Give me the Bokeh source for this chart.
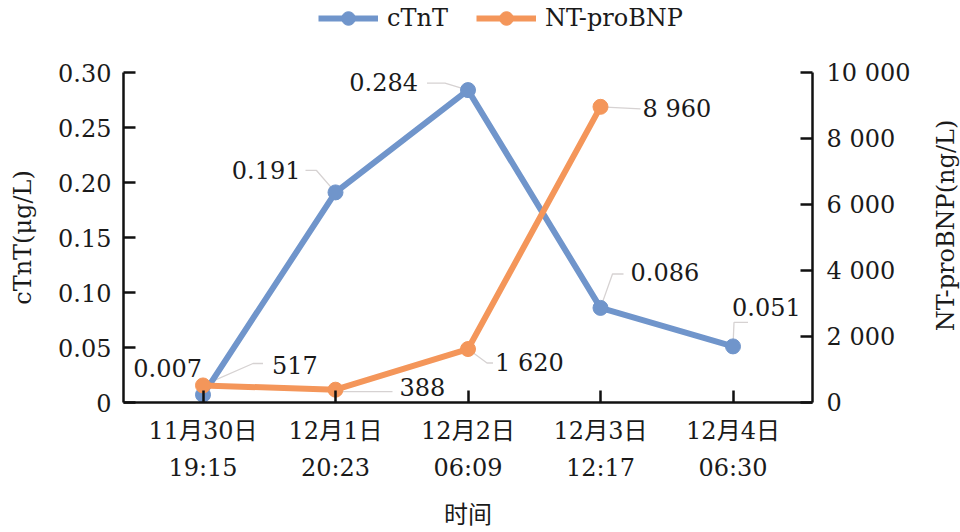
import math
from bokeh.plotting import figure
from bokeh.layouts import column, row
from bokeh.models import (Range1d, LinearAxis, FixedTicker, Legend, LegendItem,
                          ColumnDataSource)
from bokeh.core.properties import value
from bokeh.embed import file_html
from bokeh.resources import INLINE

# ---------------- data ----------------
categories = ["11月30日\n19:15", "12月1日\n20:23", "12月2日\n06:09",
              "12月3日\n12:17", "12月4日\n06:30"]
ctnt = [0.007, 0.191, 0.284, 0.086, 0.051]
bnp = [517, 388, 1620, 8960]
ctnt_labels = ["0.007", "0.191", "0.284", "0.086", "0.051"]
bnp_labels = ["517", "388", "1 620", "8 960"]
series_names = ["cTnT", "NT-proBNP"]
left_ticks = [0, 0.05, 0.10, 0.15, 0.20, 0.25, 0.30]
left_tick_labels = ["0", "0.05", "0.10", "0.15", "0.20", "0.25", "0.30"]
right_ticks = [0, 2000, 4000, 6000, 8000, 10000]
right_tick_labels = ["0", "2 000", "4 000", "6 000", "8 000", "10 000"]
x_title = "时间"
left_title = "cTnT(μg/L)"
right_title = "NT-proBNP(ng/L)"

# ---------------- layout / style ----------------
W, H = 960, 532
TOPH = 40                      # legend strip height
RW = 40                        # right-title strip width
W2 = W - RW
BL, BR, BT, BB = 123, 148 - RW, 72 - TOPH, 129
H2 = H - TOPH
FW, FH = W2 - BL - BR, H2 - BT - BB
XMIN, XMAX = -0.6, len(categories) - 0.4
YMAX_L, YMAX_R = 0.30, 10000
BLUE = "#7095CB"
ORANGE = "#F4965A"
LEAD = "#d6d2d2"
FONT = "'DejaVu Serif', 'Noto Sans CJK SC'"
FS = "24px"
INK = "#1a1a1a"

px_x = FW / (XMAX - XMIN)
px_l = FH / YMAX_L
px_r = FH / YMAX_R

# label placement (pixel offsets from each point), align
ctnt_lab_off = [(-1, -27, "right"), (-35, -22, "right"), (-50, -8, "right"),
                (30, -36, "left"), (-1, -39, "left")]
bnp_lab_off = [(69, -20, "left"), (64, -3, "left"), (27, 14, "left"), (42, 2, "left")]
# leader polylines (pixel offsets from each point)
ctnt_lead = [[(0, 0), (0, 0)], [(0, 0), (-19, -22), (-30, -22)],
             [(0, 0), (-23, -7), (-41, -7)], [(0, 0), (12, -34), (23, -34)],
             [(0, 0), (1, -24), (15, -24)]]
bnp_lead = [[(0, 0), (50, -22), (60, -22)], [(0, 2), (57, 2)],
            [(0, 0), (19, 14), (25, 14)], [(0, 0), (40, 2)]]

# ---------------- legend strip ----------------
top = figure(width=W2, height=TOPH, output_backend="svg", toolbar_location=None,
             x_range=Range1d(0, 1), y_range=Range1d(0, 1),
             x_axis_location=None, y_axis_location=None,
             min_border=0, background_fill_color="white",
             border_fill_color="white")
top.outline_line_color = None
top.grid.visible = False
# proxy renderers (their points lie outside the visible range)
tl1 = top.line([-5, -4], [-5, -4], line_color=BLUE, line_width=6)
ts1 = top.scatter([-5], [-5], size=15, fill_color=BLUE, line_color=BLUE)
tl2 = top.line([-5, -4], [-5, -4], line_color=ORANGE, line_width=6)
ts2 = top.scatter([-5], [-5], size=15, fill_color=ORANGE, line_color=ORANGE)
legend = Legend(items=[LegendItem(label=series_names[0], renderers=[tl1, ts1]),
                       LegendItem(label=series_names[1], renderers=[tl2, ts2])],
                orientation="horizontal", location=(318 - BL, 5),
                border_line_color=None, background_fill_alpha=0,
                padding=0, margin=0, spacing=28, label_standoff=9,
                glyph_width=60, glyph_height=34,
                label_text_font=FONT, label_text_font_size=FS,
                label_text_color=INK, label_text_baseline="middle")
top.add_layout(legend)

# ---------------- main chart ----------------
p = figure(width=W2, height=H2, output_backend="svg", toolbar_location=None,
           x_range=Range1d(XMIN, XMAX), y_range=Range1d(0, YMAX_L),
           min_border_left=BL, min_border_right=BR, min_border_top=BT,
           min_border_bottom=BB, background_fill_color="white",
           border_fill_color="white")
p.outline_line_color = None
p.grid.visible = False
p.extra_y_ranges = {"bnp": Range1d(0, YMAX_R)}

xs_c = list(range(len(ctnt)))
xs_b = list(range(len(bnp)))

def leader(xs, vals, offs, pxy):
    lx, ly = [], []
    for x, v, pts in zip(xs, vals, offs):
        lx.append([x + dx / px_x for dx, dy in pts])
        ly.append([v - dy / pxy for dx, dy in pts])
    return lx, ly

lx, ly = leader(xs_c, ctnt, ctnt_lead, px_l)
p.multi_line(lx, ly, line_color=LEAD, line_width=1.3)
lx, ly = leader(xs_b, bnp, bnp_lead, px_r)
p.multi_line(lx, ly, line_color=LEAD, line_width=1.3, y_range_name="bnp")

p.line(xs_c, ctnt, line_color=BLUE, line_width=6)
p.scatter(xs_c, ctnt, size=15, fill_color=BLUE, line_color=BLUE)
p.line(xs_b, bnp, line_color=ORANGE, line_width=6, y_range_name="bnp")
p.scatter(xs_b, bnp, size=15, fill_color=ORANGE, line_color=ORANGE,
          y_range_name="bnp")

src_c = ColumnDataSource(dict(x=xs_c, y=ctnt, t=ctnt_labels,
                              dx=[o[0] for o in ctnt_lab_off],
                              dy=[o[1] for o in ctnt_lab_off],
                              al=[o[2] for o in ctnt_lab_off]))
p.text("x", "y", text="t", x_offset="dx", y_offset="dy", text_align="al",
       text_baseline="middle", text_font=value(FONT), text_font_size=FS,
       text_color=INK, source=src_c)
src_b = ColumnDataSource(dict(x=xs_b, y=bnp, t=bnp_labels,
                              dx=[o[0] for o in bnp_lab_off],
                              dy=[o[1] for o in bnp_lab_off],
                              al=[o[2] for o in bnp_lab_off]))
p.text("x", "y", text="t", x_offset="dx", y_offset="dy", text_align="al",
       text_baseline="middle", text_font=value(FONT), text_font_size=FS,
       text_color=INK, source=src_b, y_range_name="bnp")

def style_axis(ax):
    ax.axis_line_width = 2.5
    ax.axis_line_color = "#111111"
    ax.major_tick_line_width = 2.5
    ax.major_tick_line_color = "#111111"
    ax.major_tick_in = 12
    ax.major_tick_out = 0
    ax.minor_tick_line_color = None
    ax.major_label_text_font = FONT
    ax.major_label_text_font_size = FS
    ax.major_label_text_color = INK
    ax.axis_label_text_font = FONT
    ax.axis_label_text_font_size = FS
    ax.axis_label_text_font_style = "normal"
    ax.axis_label_text_color = INK

xa = p.xaxis[0]
style_axis(xa)
xa.ticker = FixedTicker(ticks=xs_c)
xa.major_label_overrides = {i: c for i, c in enumerate(categories)}
xa.major_label_standoff = 14
xa.major_label_text_line_height = 1.35
xa.axis_label = x_title
xa.axis_label_standoff = 16

ya = p.yaxis[0]
style_axis(ya)
ya.ticker = FixedTicker(ticks=left_ticks)
ya.major_label_overrides = dict(zip(left_ticks, left_tick_labels))
ya.major_label_standoff = 12
ya.axis_label = left_title
ya.axis_label_standoff = 18

ra = LinearAxis(y_range_name="bnp")
style_axis(ra)
ra.ticker = FixedTicker(ticks=right_ticks)
ra.major_label_overrides = dict(zip(right_ticks, right_tick_labels))
ra.major_label_standoff = 14
p.add_layout(ra, "right")

# ---------------- right-title strip (reads bottom-to-top) ----------------
rs = figure(width=RW, height=H, output_backend="svg", toolbar_location=None,
            x_range=Range1d(0, RW), y_range=Range1d(0, H),
            x_axis_location=None, y_axis_location=None,
            min_border=0, background_fill_color="white",
            border_fill_color="white")
rs.outline_line_color = None
rs.grid.visible = False
rs.text(x=[945 - W2], y=[H - 225], text=[right_title], angle=math.pi / 2,
        text_align="center", text_baseline="middle", text_font=value(FONT),
        text_font_size=FS, text_color=INK)

layout = row(column(top, p, spacing=0), rs, spacing=0)
open("out.html", "w").write(file_html(layout, INLINE))
